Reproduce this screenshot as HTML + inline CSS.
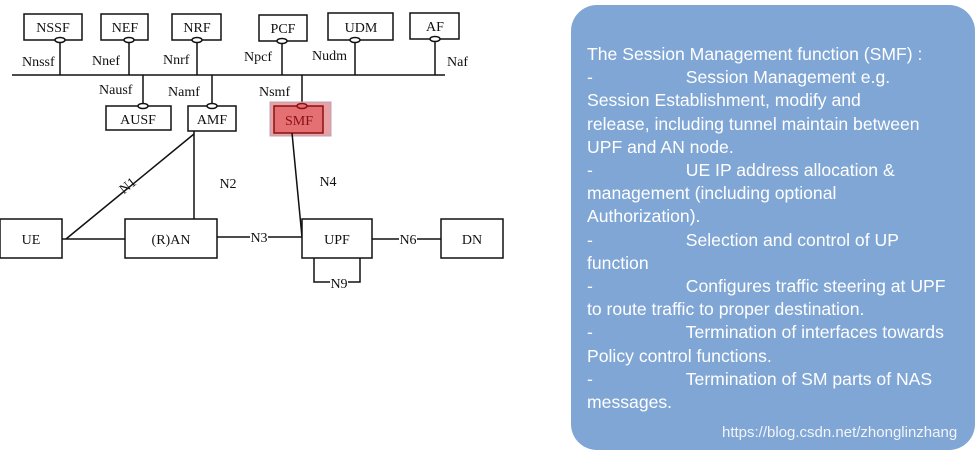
<!DOCTYPE html>
<html><head><meta charset="utf-8"><style>
body{margin:0;width:980px;height:454px;background:#fff;overflow:hidden;position:relative}
svg{position:absolute;left:0;top:0}
.t{font-family:"Liberation Serif",serif;font-size:14px;fill:#111}
#box{position:absolute;left:571px;top:5px;width:404px;height:445px;background:#7fa6d4;border-radius:26px;box-sizing:border-box;padding:38px 0 0 16px;color:#fff;font-family:"Liberation Sans",sans-serif;font-size:17.6px;line-height:23.2px}
#box p{margin:0;white-space:nowrap}
#wm{position:absolute;left:722px;top:424px;color:#f2f4f8;font-family:"Liberation Sans",sans-serif;font-size:15px}
</style></head><body>
<svg width="560" height="300" stroke="#111" stroke-width="1.5" fill="none">
<line x1="12" y1="75" x2="445" y2="75"/>
<rect x="24" y="14" width="58" height="26" fill="#fff"/>
<rect x="101" y="14" width="47" height="26" fill="#fff"/>
<rect x="172" y="14" width="49" height="26" fill="#fff"/>
<rect x="259" y="15" width="48" height="26" fill="#fff"/>
<rect x="328" y="13" width="65" height="27" fill="#fff"/>
<rect x="410" y="13" width="49" height="26" fill="#fff"/>
<line x1="60" y1="40" x2="60" y2="75"/><line x1="129" y1="40" x2="129" y2="75"/><line x1="197" y1="40" x2="197" y2="75"/>
<line x1="282" y1="41" x2="282" y2="75"/><line x1="355" y1="40" x2="355" y2="75"/><line x1="435" y1="39" x2="435" y2="75"/>
<line x1="143" y1="75" x2="143" y2="106"/><line x1="212" y1="75" x2="212" y2="106"/><line x1="302" y1="75" x2="302" y2="106"/>
<rect x="270" y="102" width="61" height="34" fill="#e9a0a3" stroke="#b9a3b8" stroke-width="1"/>
<rect x="106" y="106" width="65" height="24" fill="#fff"/>
<rect x="188" y="106" width="48" height="25" fill="#fff"/>
<rect x="274" y="106" width="49" height="27" fill="#e57074" stroke="#8a1010"/>
<g fill="#fff">
<ellipse cx="60" cy="40" rx="5" ry="2.5"/><ellipse cx="129" cy="40" rx="5" ry="2.5"/><ellipse cx="197" cy="40" rx="5" ry="2.5"/>
<ellipse cx="282" cy="41" rx="5" ry="2.5"/><ellipse cx="355" cy="40" rx="5" ry="2.5"/><ellipse cx="435" cy="39" rx="5" ry="2.5"/>
<ellipse cx="143" cy="106" rx="5" ry="2.5"/><ellipse cx="212" cy="106" rx="5" ry="2.5"/></g>
<ellipse cx="302" cy="106" rx="5" ry="2.5" fill="#e57074" stroke="#8a1010"/>
<line x1="194" y1="134" x2="66" y2="239"/>
<line x1="194" y1="131" x2="194" y2="219"/>
<line x1="292" y1="133" x2="302" y2="237"/>
<line x1="62" y1="239" x2="125" y2="239"/>
<line x1="217" y1="237" x2="302" y2="237"/>
<line x1="372" y1="239" x2="441" y2="239"/>
<polyline points="314,258 314,282 360,282 360,258"/>
<rect x="0" y="219" width="62" height="39" fill="#fff"/>
<rect x="125" y="219" width="92" height="39" fill="#fff"/>
<rect x="302" y="219" width="70" height="39" fill="#fff"/>
<rect x="441" y="219" width="62" height="39" fill="#fff"/>
<g stroke="none" fill="#fff"><rect x="250" y="230" width="18" height="14"/><rect x="399" y="232" width="18" height="14"/><rect x="330" y="276" width="18" height="12"/></g>
<g class="t" stroke="none" text-anchor="middle">
<text x="53" y="32">NSSF</text><text x="125" y="32">NEF</text><text x="197" y="32">NRF</text>
<text x="283" y="33">PCF</text><text x="361" y="32">UDM</text><text x="435" y="31">AF</text>
<text x="138" y="124">AUSF</text><text x="212" y="124">AMF</text><text x="299" y="125" fill="#8a1010">SMF</text>
<text x="31" y="244">UE</text><text x="171" y="244">(R)AN</text><text x="337" y="244">UPF</text><text x="472" y="244">DN</text>
<text x="259" y="242">N3</text><text x="408" y="244">N6</text><text x="339" y="288">N9</text>
<text x="228" y="188">N2</text><text x="328" y="186">N4</text>
<text x="128" y="190" transform="rotate(-39 128 186)">N1</text>
</g>
<g class="t" stroke="none">
<text x="22" y="66">Nnssf</text><text x="92" y="65">Nnef</text><text x="163" y="64">Nnrf</text>
<text x="244" y="61">Npcf</text><text x="312" y="60">Nudm</text><text x="447" y="66">Naf</text>
<text x="99" y="94">Nausf</text><text x="168" y="96">Namf</text><text x="259" y="96">Nsmf</text>
</g>
</svg>
<div id="box">
<p>The Session Management function (SMF) :</p>
<p>-&nbsp;&nbsp;&nbsp;&nbsp;&nbsp;&nbsp;&nbsp;&nbsp;&nbsp;&nbsp;&nbsp;&nbsp;&nbsp;&nbsp;&nbsp;&nbsp;&nbsp;&nbsp;&nbsp;Session Management e.g.</p>
<p>Session Establishment, modify and</p>
<p>release, including tunnel maintain between</p>
<p>UPF and AN node.</p>
<p>-&nbsp;&nbsp;&nbsp;&nbsp;&nbsp;&nbsp;&nbsp;&nbsp;&nbsp;&nbsp;&nbsp;&nbsp;&nbsp;&nbsp;&nbsp;&nbsp;&nbsp;&nbsp;&nbsp;UE IP address allocation &amp;</p>
<p>management (including optional</p>
<p>Authorization).</p>
<p>-&nbsp;&nbsp;&nbsp;&nbsp;&nbsp;&nbsp;&nbsp;&nbsp;&nbsp;&nbsp;&nbsp;&nbsp;&nbsp;&nbsp;&nbsp;&nbsp;&nbsp;&nbsp;&nbsp;Selection and control of UP</p>
<p>function</p>
<p>-&nbsp;&nbsp;&nbsp;&nbsp;&nbsp;&nbsp;&nbsp;&nbsp;&nbsp;&nbsp;&nbsp;&nbsp;&nbsp;&nbsp;&nbsp;&nbsp;&nbsp;&nbsp;&nbsp;Configures traffic steering at UPF</p>
<p>to route traffic to proper destination.</p>
<p>-&nbsp;&nbsp;&nbsp;&nbsp;&nbsp;&nbsp;&nbsp;&nbsp;&nbsp;&nbsp;&nbsp;&nbsp;&nbsp;&nbsp;&nbsp;&nbsp;&nbsp;&nbsp;&nbsp;Termination of interfaces towards</p>
<p>Policy control functions.</p>
<p>-&nbsp;&nbsp;&nbsp;&nbsp;&nbsp;&nbsp;&nbsp;&nbsp;&nbsp;&nbsp;&nbsp;&nbsp;&nbsp;&nbsp;&nbsp;&nbsp;&nbsp;&nbsp;&nbsp;Termination of SM parts of NAS</p>
<p>messages.</p>
</div>
<div id="wm">https://blog.csdn.net/zhonglinzhang</div>
</body></html>
